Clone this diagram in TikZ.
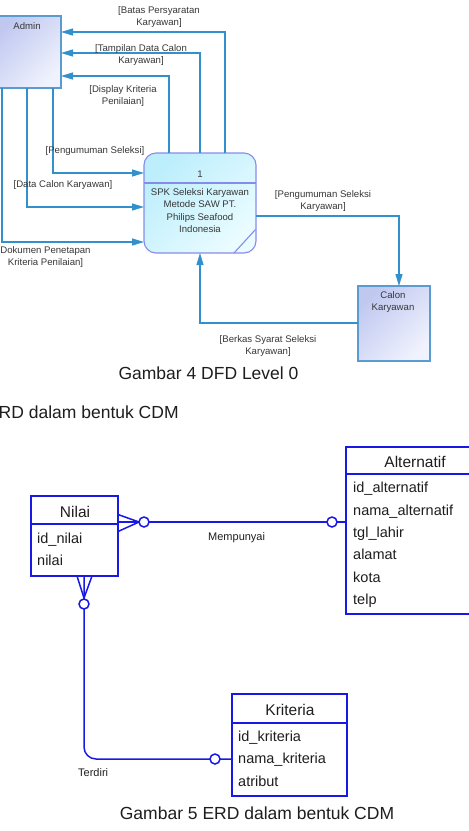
\documentclass[tikz,border=0pt]{standalone}
\usepackage{fontspec}
\setmainfont{Liberation Sans}
\usetikzlibrary{arrows.meta}
\definecolor{flowc}{RGB}{50,145,205}
\definecolor{extborder}{RGB}{90,155,210}
\definecolor{extA}{RGB}{192,200,240}
\definecolor{extB}{RGB}{240,242,253}
\definecolor{procborder}{RGB}{135,140,235}
\definecolor{procA}{RGB}{188,238,252}
\definecolor{procB}{RGB}{234,252,255}
\definecolor{erdc}{RGB}{25,25,230}
\definecolor{lblc}{RGB}{55,55,55}
\definecolor{txtc}{RGB}{30,30,30}
\begin{document}
\begin{tikzpicture}[x=1pt,y=-1pt,
  flow/.style={draw=flowc, line width=1.2pt, -{Triangle[length=12pt,width=7pt]}},
  lbl/.style={text=lblc, font=\fontsize{9.6}{12}\selectfont, align=center, inner sep=0},
  ext/.style={draw=extborder, line width=1.1pt, inner sep=0, outer sep=0, top color=extA, bottom color=extB, shading angle=45},
  proc/.style={draw=procborder, line width=1.1pt, rounded corners=12pt, inner sep=0, outer sep=0, top color=procA, bottom color=procB, shading angle=45},
  erd/.style={draw=erdc, line width=1.5pt},
  ebox/.style={draw=erdc, line width=1.5pt, fill=white, inner sep=0, outer sep=0},
  etitle/.style={text=txtc, font=\fontsize{15.5}{18}\selectfont, inner sep=0, anchor=base},
  eattr/.style={text=txtc, font=\fontsize{14.5}{17}\selectfont, inner sep=0, anchor=base west},
  ring/.style={draw=erdc, line width=1.5pt, fill=white, circle, minimum size=10pt, inner sep=0},
  capt/.style={text=txtc, font=\fontsize{17.5}{20}\selectfont, inner sep=0, anchor=base}
]
\useasboundingbox (0,0) rectangle (469,831);
\fill[white] (0,0) rectangle (469,831);
\clip (0,0) rectangle (469,831);

% ---------------- DFD ----------------
\node[ext, minimum width=67pt, minimum height=72pt, anchor=north west] (admin) at (-6,16) {};
\node[lbl] (admintxt) at (27,26) {Admin};

\node[proc, minimum width=112pt, minimum height=100pt, anchor=north west] (proc) at (144,153) {};
\draw[draw=procborder, line width=1.1pt] (proc.west |- 0,183) -- (proc.east |- 0,183);
\draw[draw=procborder, line width=1.1pt] (234,253) -- (255.5,229.5);
\node[lbl] (procnum) at (200,174) {1};
\node[lbl, font=\fontsize{9.6}{12.3}\selectfont] (proctxt) at (200,210.5) {SPK Seleksi Karyawan\\Metode SAW PT.\\Philips Seafood\\Indonesia};

\node[ext, minimum width=72pt, minimum height=75pt, anchor=north west] (calon) at (358,286) {};
\node[lbl] (calontxt) at (393,302) {Calon\\Karyawan};

\draw[flow] (admin.south -| 53,0) |- (proc.west |- 0,173);
\draw[flow] (admin.south -| 27,0) |- (proc.west |- 0,207);
\draw[flow] (admin.south -| 2,0) |- (proc.west |- 0,242);
\draw[flow] (proc.north -| 225,0) |- (admin.east |- 0,32);
\draw[flow] (proc.north -| 200,0) |- (admin.east |- 0,53);
\draw[flow] (proc.north -| 169,0) |- (admin.east |- 0,76);
\draw[flow] (proc.east |- 0,216) -| (calon.north -| 399,0);
\draw[flow] (calon.west |- 0,323) -| (proc.south -| 200,0);

\node[lbl] (l1) at (159,17) {[Batas Persyaratan\\Karyawan]};
\node[lbl] (l2) at (141,55) {[Tampilan Data Calon\\Karyawan]};
\node[lbl] (l3) at (123,96) {[Display Kriteria\\Penilaian]};
\node[lbl] (l4) at (95,151) {[Pengumuman Seleksi]};
\node[lbl] (l5) at (63,185) {[Data Calon Karyawan]};
\node[lbl] (l6) at (45.5,257) {Dokumen Penetapan\\Kriteria Penilaian]};
\node[lbl] (l7) at (323,201) {[Pengumuman Seleksi\\Karyawan]};
\node[lbl] (l8) at (268,346.5) {[Berkas Syarat Seleksi\\Karyawan]};

\node[capt] (cap4) at (208.5,379) {Gambar 4 DFD Level 0};
\node[capt, anchor=base west] (sect) at (-1.5,418) {RD dalam bentuk CDM};

% ---------------- ERD ----------------
\node[ebox, minimum width=87pt, minimum height=80pt, anchor=north west] (nilai) at (31,496) {};
\draw[erd] (nilai.west |- 0,524) -- (nilai.east |- 0,524);
\node[etitle] (nilaiT) at (75,517) {Nilai};
\node[eattr] (n1) at (37,543) {id\_nilai};
\node[eattr] (n2) at (37,565) {nilai};

\node[ebox, minimum width=138pt, minimum height=167pt, anchor=north west] (alt) at (346,447) {};
\draw[erd] (alt.west |- 0,474) -- (alt.east |- 0,474);
\node[etitle] (altT) at (415,467) {Alternatif};
\node[eattr] (a1) at (353,492.5) {id\_alternatif};
\node[eattr] (a2) at (353,515) {nama\_alternatif};
\node[eattr] (a3) at (353,537) {tgl\_lahir};
\node[eattr] (a4) at (353,559.5) {alamat};
\node[eattr] (a5) at (353,582) {kota};
\node[eattr] (a6) at (353,604) {telp};

\node[ebox, minimum width=115pt, minimum height=102pt, anchor=north west] (krit) at (232,694) {};
\draw[erd] (krit.west |- 0,723) -- (krit.east |- 0,723);
\node[etitle] (kritT) at (290,715) {Kriteria};
\node[eattr] (k1) at (238,741) {id\_kriteria};
\node[eattr] (k2) at (238,763) {nama\_kriteria};
\node[eattr] (k3) at (238,786) {atribut};

% Nilai -- Alternatif
\coordinate (c1) at (139,522);
\draw[erd] (nilai.east |- 0,522) -- (alt.west |- 0,522);
\draw[erd] (nilai.east |- 0,514.5) -- (c1) -- (nilai.east |- 0,531.5);
\node[ring] (r1) at (144,522) {};
\node[ring] (r2) at (332,522) {};
\node[text=txtc, font=\fontsize{11}{13}\selectfont, inner sep=0, anchor=base west] (rel1) at (208,540) {Mempunyai};

% Nilai -- Kriteria
\coordinate (c2) at (84,598);
\draw[erd, rounded corners=12pt] (nilai.south -| 84,0) |- (krit.west |- 0,759);
\draw[erd] (nilai.south -| 77,0) -- (c2) -- (nilai.south -| 92,0);
\node[ring] (r3) at (84,604) {};
\node[ring] (r4) at (215,759) {};
\node[text=txtc, font=\fontsize{11}{13}\selectfont, inner sep=0, anchor=base west] (rel2) at (78,776) {Terdiri};

\node[capt] (cap5) at (257,819) {Gambar 5 ERD dalam bentuk CDM};
\end{tikzpicture}
\end{document}
